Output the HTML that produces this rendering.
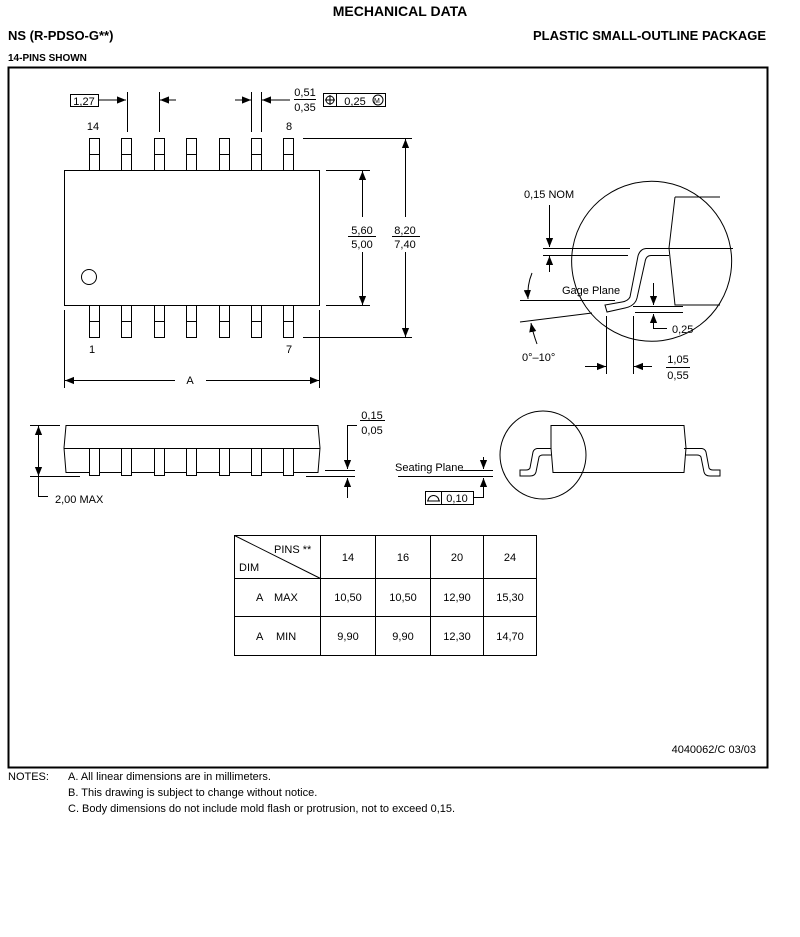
<!DOCTYPE html>
<html><head><meta charset="utf-8"><style>
html,body{margin:0;padding:0;background:#fff;width:800px;height:937px;overflow:hidden}
svg{display:block}
text{font-family:"Liberation Sans",sans-serif;font-size:11px;fill:#000}
.b{font-weight:bold}
</style></head><body>
<svg width="800" height="937" viewBox="0 0 800 937" xmlns="http://www.w3.org/2000/svg">
<defs>
<marker id="a" viewBox="0 0 10 10" refX="10" refY="5" markerWidth="9" markerHeight="9" orient="auto-start-reverse" markerUnits="userSpaceOnUse"><path d="M0,1 L10,5 L0,9 z" fill="#000"/></marker>
</defs>
<g>
<text x="400" y="16" text-anchor="middle" class="b" style="font-size:14px">MECHANICAL DATA</text>
<text x="8" y="40" class="b" style="font-size:13px">NS (R-PDSO-G**)</text>
<text x="766" y="40" text-anchor="end" class="b" style="font-size:13px">PLASTIC SMALL-OUTLINE PACKAGE</text>
<text x="8" y="61" class="b" style="font-size:10px">14-PINS SHOWN</text>
</g>
<rect x="8.5" y="67.5" width="759" height="700" fill="none" stroke="#000" stroke-width="2"/>

<g stroke="#000" stroke-width="1" fill="none">
<!-- top view body -->
<rect x="64.5" y="170.5" width="255" height="135"/>
<circle cx="89" cy="277" r="7.5"/>
<g id="pins">
<rect x="89.5" y="138.5" width="10" height="32"/><line x1="89.5" y1="154.5" x2="99.5" y2="154.5"/>
<rect x="121.5" y="138.5" width="10" height="32"/><line x1="121.5" y1="154.5" x2="131.5" y2="154.5"/>
<rect x="154.5" y="138.5" width="10" height="32"/><line x1="154.5" y1="154.5" x2="164.5" y2="154.5"/>
<rect x="186.5" y="138.5" width="10" height="32"/><line x1="186.5" y1="154.5" x2="196.5" y2="154.5"/>
<rect x="219.5" y="138.5" width="10" height="32"/><line x1="219.5" y1="154.5" x2="229.5" y2="154.5"/>
<rect x="251.5" y="138.5" width="10" height="32"/><line x1="251.5" y1="154.5" x2="261.5" y2="154.5"/>
<rect x="283.5" y="138.5" width="10" height="32"/><line x1="283.5" y1="154.5" x2="293.5" y2="154.5"/>
</g>
<use href="#pins" transform="translate(0,167)"/>
<!-- pitch dims -->
<rect x="70.5" y="94.5" width="28" height="12"/>
<line x1="98" y1="100" x2="126" y2="100" marker-end="url(#a)"/>
<line x1="127.5" y1="92" x2="127.5" y2="132"/>
<line x1="159.5" y1="92" x2="159.5" y2="132"/>
<line x1="176" y1="100" x2="160" y2="100" marker-end="url(#a)"/>
<line x1="251.5" y1="92" x2="251.5" y2="132"/>
<line x1="261.5" y1="92" x2="261.5" y2="132"/>
<line x1="235" y1="100" x2="251" y2="100" marker-end="url(#a)"/>
<line x1="290" y1="100" x2="262" y2="100" marker-end="url(#a)"/>
<line x1="294" y1="99.5" x2="316" y2="99.5"/>
<rect x="323.5" y="93.5" width="62" height="13"/>
<line x1="336.5" y1="93.5" x2="336.5" y2="106.5"/>
<circle cx="330" cy="100" r="4"/><line x1="330" y1="95" x2="330" y2="105"/><line x1="325" y1="100" x2="335" y2="100"/>
<circle cx="378" cy="100" r="5"/>
<!-- vertical dims -->
<line x1="326" y1="170.5" x2="370" y2="170.5"/>
<line x1="326" y1="305.5" x2="370" y2="305.5"/>
<line x1="362.5" y1="217" x2="362.5" y2="171" marker-end="url(#a)"/>
<line x1="362.5" y1="252" x2="362.5" y2="305" marker-end="url(#a)"/>
<line x1="348" y1="236.5" x2="376" y2="236.5"/>
<line x1="303" y1="138.5" x2="412" y2="138.5"/>
<line x1="303" y1="337.5" x2="412" y2="337.5"/>
<line x1="405.5" y1="217" x2="405.5" y2="139" marker-end="url(#a)"/>
<line x1="405.5" y1="252" x2="405.5" y2="337" marker-end="url(#a)"/>
<line x1="392" y1="236.5" x2="420" y2="236.5"/>
<!-- A dim -->
<line x1="64.5" y1="310" x2="64.5" y2="388"/>
<line x1="319.5" y1="310" x2="319.5" y2="388"/>
<line x1="175" y1="380.5" x2="65" y2="380.5" marker-end="url(#a)"/>
<line x1="206" y1="380.5" x2="319" y2="380.5" marker-end="url(#a)"/>

<!-- detail circle -->
<path d="M586,307 A80,80 0 1 1 700,325"/>
<path d="M586,307 A80,80 0 0 0 700,325"/>
<path d="M675,197 H720 M675,197 L669,248 L675,305 H720"/>
<line x1="543" y1="248.5" x2="630" y2="248.5"/>
<line x1="669" y1="248.5" x2="733" y2="248.5"/>
<line x1="543" y1="255.5" x2="628" y2="255.5"/>
<path d="M669,248.5 H646 Q640,249 638,256 L630,297 Q628,301 622,302 L605,305 L607,312 L625,308 Q635,306 637,298 L645,262 Q646,255 652,255.5 H669"/>
<line x1="549.5" y1="205" x2="549.5" y2="247" marker-end="url(#a)"/>
<line x1="549.5" y1="272" x2="549.5" y2="256" marker-end="url(#a)"/>
<line x1="520" y1="300.5" x2="615" y2="300.5"/>
<line x1="520" y1="322" x2="592" y2="313"/>
<path d="M532,273 Q527,285 528,299" marker-end="url(#a)"/>
<path d="M537,344 Q533,333 531,323" marker-end="url(#a)"/>
<line x1="633" y1="306.5" x2="683" y2="306.5"/>
<line x1="635" y1="312.5" x2="683" y2="312.5"/>
<line x1="653.5" y1="283" x2="653.5" y2="305" marker-end="url(#a)"/>
<path d="M653.5,329 V314" marker-end="url(#a)"/>
<line x1="653.5" y1="328.5" x2="667" y2="328.5"/>
<line x1="606.5" y1="316" x2="606.5" y2="374"/>
<line x1="633.5" y1="316" x2="633.5" y2="374"/>
<line x1="585" y1="366.5" x2="606" y2="366.5" marker-end="url(#a)"/>
<line x1="652" y1="366.5" x2="634" y2="366.5" marker-end="url(#a)"/>
<line x1="666" y1="367.5" x2="690" y2="367.5"/>

<!-- side view -->
<path d="M66,425.5 H318 L320,448 L318,472.5 H66 L64,448 Z"/>
<line x1="64" y1="448.5" x2="320" y2="448.5"/>
<g fill="#fff">
<rect x="89.5" y="448.5" width="10" height="27"/>
<rect x="121.5" y="448.5" width="10" height="27"/>
<rect x="154.5" y="448.5" width="10" height="27"/>
<rect x="186.5" y="448.5" width="10" height="27"/>
<rect x="219.5" y="448.5" width="10" height="27"/>
<rect x="251.5" y="448.5" width="10" height="27"/>
<rect x="283.5" y="448.5" width="10" height="27"/>
</g>
<line x1="30" y1="425.5" x2="60" y2="425.5"/>
<line x1="30" y1="476.5" x2="80" y2="476.5"/>
<line x1="306" y1="476.5" x2="355" y2="476.5"/>
<line x1="325" y1="470.5" x2="355" y2="470.5"/>
<line x1="38.5" y1="450" x2="38.5" y2="426" marker-end="url(#a)"/>
<line x1="38.5" y1="450" x2="38.5" y2="476" marker-end="url(#a)"/>
<path d="M38.5,476 V496.5 H48"/>
<path d="M357,425.5 H347.5 V469" marker-end="url(#a)"/>
<path d="M347.5,498 V478" marker-end="url(#a)"/>
<line x1="360" y1="420.5" x2="385" y2="420.5"/>

<!-- right side view -->
<path d="M551,425.5 H684 L686,448 L684,472.5 H553 L551,448 Z"/>
<path d="M551,448.5 H537 Q534,449 533,452 L530,468 Q529,470 526,470 H520 V476 H530 Q535,476 536,472 L539,457 Q540,455 543,455 H551"/>
<path d="M684,448.5 H702 Q705,449 706,452 L709,468 Q710,470 713,470 H720 V476 H710 Q705,476 704,472 L701,457 Q700,455 697,455 H685"/>
<ellipse cx="543" cy="455" rx="43" ry="44"/>
<line x1="398" y1="476.5" x2="493" y2="476.5"/>
<line x1="460" y1="470.5" x2="493" y2="470.5"/>
<line x1="483.5" y1="457" x2="483.5" y2="469" marker-end="url(#a)"/>
<path d="M483.5,490 V478" marker-end="url(#a)"/>
<path d="M483.5,489 V497.5 H473"/>
<rect x="425.5" y="491.5" width="48" height="13"/>
<line x1="441.5" y1="491.5" x2="441.5" y2="504.5"/>
<path d="M427,501 H440 M428,501 A5,5 0 0 1 439,501"/>

<!-- table -->
<rect x="234.5" y="535.5" width="302" height="120"/>
<line x1="234.5" y1="578.5" x2="536.5" y2="578.5"/>
<line x1="234.5" y1="616.5" x2="536.5" y2="616.5"/>
<line x1="320.5" y1="535.5" x2="320.5" y2="655.5"/>
<line x1="375.5" y1="535.5" x2="375.5" y2="655.5"/>
<line x1="430.5" y1="535.5" x2="430.5" y2="655.5"/>
<line x1="483.5" y1="535.5" x2="483.5" y2="655.5"/>
<line x1="234.5" y1="535.5" x2="320.5" y2="578.5"/>
</g>

<g>
<text x="93" y="130" text-anchor="middle">14</text>
<text x="289" y="130" text-anchor="middle">8</text>
<text x="92" y="353" text-anchor="middle">1</text>
<text x="289" y="353" text-anchor="middle">7</text>
<text x="84" y="105" text-anchor="middle">1,27</text>
<text x="305" y="96" text-anchor="middle">0,51</text>
<text x="305" y="111" text-anchor="middle">0,35</text>
<text x="355" y="105" text-anchor="middle">0,25</text>
<text x="374" y="103" style="font-size:7px">M</text>
<text x="362" y="234" text-anchor="middle">5,60</text>
<text x="362" y="248" text-anchor="middle">5,00</text>
<text x="405" y="234" text-anchor="middle">8,20</text>
<text x="405" y="248" text-anchor="middle">7,40</text>
<text x="190" y="384" text-anchor="middle">A</text>
<text x="524" y="198">0,15 NOM</text>
<text x="562" y="294">Gage Plane</text>
<text x="672" y="333">0,25</text>
<text x="522" y="361">0°–10°</text>
<text x="678" y="363" text-anchor="middle">1,05</text>
<text x="678" y="379" text-anchor="middle">0,55</text>
<text x="55" y="503">2,00 MAX</text>
<text x="372" y="419" text-anchor="middle">0,15</text>
<text x="372" y="434" text-anchor="middle">0,05</text>
<text x="395" y="471">Seating Plane</text>
<text x="457" y="502" text-anchor="middle">0,10</text>
<text x="274" y="553">PINS **</text>
<text x="239" y="571">DIM</text>
<text x="348" y="561" text-anchor="middle">14</text>
<text x="403" y="561" text-anchor="middle">16</text>
<text x="457" y="561" text-anchor="middle">20</text>
<text x="510" y="561" text-anchor="middle">24</text>
<text x="256" y="601">A</text><text x="274" y="601">MAX</text>
<text x="348" y="601" text-anchor="middle">10,50</text>
<text x="403" y="601" text-anchor="middle">10,50</text>
<text x="457" y="601" text-anchor="middle">12,90</text>
<text x="510" y="601" text-anchor="middle">15,30</text>
<text x="256" y="640">A</text><text x="276" y="640">MIN</text>
<text x="348" y="640" text-anchor="middle">9,90</text>
<text x="403" y="640" text-anchor="middle">9,90</text>
<text x="457" y="640" text-anchor="middle">12,30</text>
<text x="510" y="640" text-anchor="middle">14,70</text>
<text x="756" y="753" text-anchor="end">4040062/C 03/03</text>
<text x="8" y="780">NOTES:</text>
<text x="68" y="780">A.   All linear dimensions are in millimeters.</text>
<text x="68" y="796">B.   This drawing is subject to change without notice.</text>
<text x="68" y="812">C.   Body dimensions do not include mold flash or protrusion, not to exceed 0,15.</text>
</g>
</svg>
</body></html>
